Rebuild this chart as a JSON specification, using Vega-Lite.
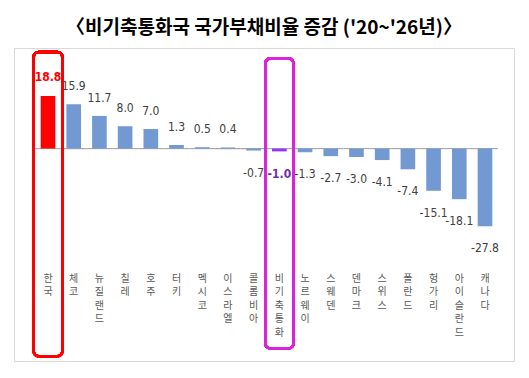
{
  "$schema": "https://vega.github.io/schema/vega-lite/v6.json",
  "width": 500,
  "height": 313,
  "padding": {"left": 14, "right": 15, "top": 19, "bottom": 14},
  "title": {
    "text": "〈비기축통화국 국가부채비율 증감 ('20~'26년)〉",
    "font": "Noto Sans CJK KR",
    "fontSize": 19,
    "fontWeight": "bold",
    "color": "#000000",
    "anchor": "middle",
    "offset": 10
  },
  "config": {
    "locale": {"number": {"decimal": ".", "thousands": ",", "grouping": [3], "currency": ["", ""], "minus": "-"}},
    "view": {"stroke": "#d9d9d9", "strokeWidth": 1},
    "text": {"font": "DejaVu Sans Condensed, Roboto Condensed, Liberation Sans Narrow, Roboto, sans-serif", "fontSize": 12}
  },
  "data": {
    "values": [
      {"name": "한국", "value": 18.8, "group": "한국"},
      {"name": "체코", "value": 15.9, "group": "기타"},
      {"name": "뉴질랜드", "value": 11.7, "group": "기타"},
      {"name": "칠레", "value": 8.0, "group": "기타"},
      {"name": "호주", "value": 7.0, "group": "기타"},
      {"name": "터키", "value": 1.3, "group": "기타"},
      {"name": "멕시코", "value": 0.5, "group": "기타"},
      {"name": "이스라엘", "value": 0.4, "group": "기타"},
      {"name": "콜롬비아", "value": -0.7, "group": "기타"},
      {"name": "비기축통화", "value": -1.0, "group": "평균"},
      {"name": "노르웨이", "value": -1.3, "group": "기타"},
      {"name": "스웨덴", "value": -2.7, "group": "기타"},
      {"name": "덴마크", "value": -3.0, "group": "기타"},
      {"name": "스위스", "value": -4.1, "group": "기타"},
      {"name": "폴란드", "value": -7.4, "group": "기타"},
      {"name": "헝가리", "value": -15.1, "group": "기타"},
      {"name": "아이슬란드", "value": -18.1, "group": "기타"},
      {"name": "캐나다", "value": -27.8, "group": "기타"}
    ]
  },
  "encoding": {
    "x": {
      "field": "name",
      "type": "nominal",
      "sort": null,
      "scale": {"paddingInner": 0, "paddingOuter": 0.7255, "align": 0.567},
      "axis": {
        "orient": "bottom",
        "offset": -88,
        "domain": false,
        "ticks": false,
        "title": null,
        "labelAngle": 0,
        "labelExpr": "split(datum.label, '')",
        "labelFont": "Noto Sans CJK KR",
        "labelFontSize": 10,
        "labelLineHeight": 13.5,
        "labelColor": "#595959",
        "labelBaseline": "top",
        "labelPadding": 0,
        "labelOverlap": false,
        "labelBound": false
      }
    }
  },
  "layer": [
    {
      "mark": {"type": "bar", "width": {"band": 1}, "color": "#a6a6a6"},
      "encoding": {
        "y": {"datum": 0.2, "type": "quantitative", "scale": {"domain": [-76, 36], "nice": false, "zero": false}, "axis": null},
        "y2": {"datum": -0.2}
      }
    },
    {
      "mark": {"type": "bar", "width": {"band": 0.57}},
      "encoding": {
        "y": {"field": "value", "type": "quantitative", "axis": null},
        "color": {
          "field": "group",
          "type": "nominal",
          "scale": {"domain": ["한국", "평균", "기타"], "range": ["#ff0000", "#9933ff", "#7399d3"]},
          "legend": null
        }
      }
    },
    {
      "transform": [{"filter": "datum.group === '기타' && datum.value >= 0"}],
      "mark": {"type": "text", "baseline": "middle", "dy": -18, "color": "#404040"},
      "encoding": {
        "y": {"field": "value", "type": "quantitative"},
        "text": {"field": "value", "type": "quantitative", "format": ".1f"}
      }
    },
    {
      "transform": [{"filter": "datum.group === '기타' && datum.value < 0"}],
      "mark": {"type": "text", "baseline": "middle", "dy": 22, "color": "#404040"},
      "encoding": {
        "y": {"field": "value", "type": "quantitative"},
        "text": {"field": "value", "type": "quantitative", "format": ".1f"}
      }
    },
    {
      "transform": [{"filter": "datum.group === '한국'"}],
      "mark": {"type": "text", "baseline": "middle", "dy": -19, "color": "#ff0000", "fontWeight": "bold"},
      "encoding": {
        "y": {"field": "value", "type": "quantitative"},
        "text": {"field": "value", "type": "quantitative", "format": ".1f"}
      }
    },
    {
      "transform": [{"filter": "datum.group === '평균'"}],
      "mark": {"type": "text", "baseline": "middle", "dy": 23, "color": "#7030a0", "fontWeight": "bold"},
      "encoding": {
        "y": {"field": "value", "type": "quantitative"},
        "text": {"field": "value", "type": "quantitative", "format": ".1f"}
      }
    },
    {
      "mark": {"type": "rect", "filled": false, "stroke": "#ff0000", "strokeWidth": 2.5, "cornerRadius": 5, "width": {"band": 1.11}},
      "encoding": {
        "x": {"datum": "한국", "type": "nominal"},
        "y": {"datum": 34.6, "type": "quantitative"},
        "y2": {"datum": -74.3}
      }
    },
    {
      "mark": {"type": "rect", "filled": false, "stroke": "#dd22dd", "strokeWidth": 2.5, "cornerRadius": 5, "width": {"band": 1.09}},
      "encoding": {
        "x": {"datum": "비기축통화", "type": "nominal"},
        "y": {"datum": 32.3, "type": "quantitative"},
        "y2": {"datum": -71.5}
      }
    }
  ]
}
